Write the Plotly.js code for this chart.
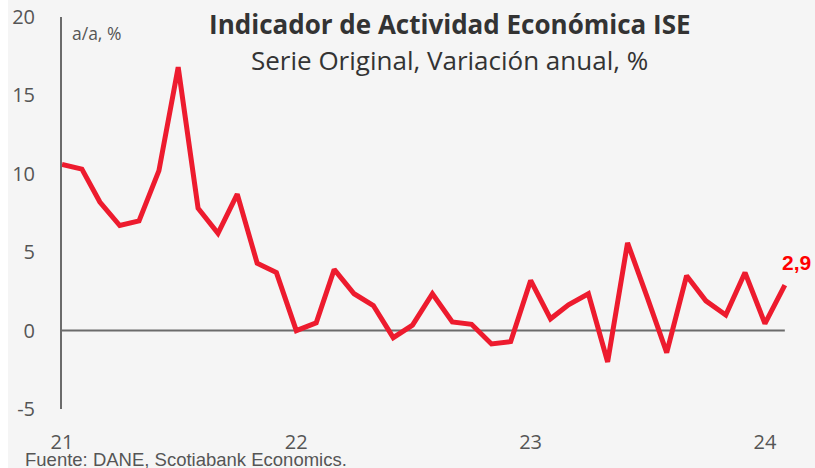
<!DOCTYPE html>
<html>
<head>
<meta charset="utf-8">
<script src="https://cdn.plot.ly/plotly-3.0.1.min.js"></script>
<style>
html,body{margin:0;padding:0;background:#ffffff;}
#chart{position:absolute;left:8px;top:0;width:807px;height:468px;}
</style>
</head>
<body>
<div id="chart"></div>
<script>
const months = [
  '2021-01-01','2021-02-01','2021-03-01','2021-04-01','2021-05-01','2021-06-01',
  '2021-07-01','2021-08-01','2021-09-01','2021-10-01','2021-11-01','2021-12-01',
  '2022-01-01','2022-02-01','2022-03-01','2022-04-01','2022-05-01','2022-06-01',
  '2022-07-01','2022-08-01','2022-09-01','2022-10-01','2022-11-01','2022-12-01',
  '2023-01-01','2023-02-01','2023-03-01','2023-04-01','2023-05-01','2023-06-01',
  '2023-07-01','2023-08-01','2023-09-01','2023-10-01','2023-11-01','2023-12-01',
  '2024-01-01','2024-02-01'
];
const iseAnual = [
  10.6, 10.3, 8.2, 6.7, 7.0, 10.2, 16.8, 7.8, 6.2, 8.7, 4.3, 3.7,
  0.0, 0.5, 3.9, 2.35, 1.6, -0.45, 0.35, 2.35, 0.55, 0.4, -0.85, -0.7,
  3.2, 0.75, 1.65, 2.35, -2.0, 5.6, 2.2, -1.4, 3.5, 1.9, 1.0, 3.7,
  0.45, 2.9
];
const yTickVals = [-5, 0, 5, 10, 15, 20];
const yTickText = ['-5', '0', '5', '10', '15', '20'];
const xTickVals = ['2021-01-01', '2022-01-01', '2023-01-01', '2024-01-01'];
const xTickText = ['21', '22', '23', '24'];
const titleText = 'Indicador de Actividad Económica ISE';
const subtitleText = 'Serie Original, Variación anual, %';
const unitText = 'a/a, %';
const sourceText = 'Fuente: DANE, Scotiabank Economics.';

const red = '#ED1B2E';
const axisGrey = '#6b6b6b';
const textGrey = '#555555';
const lastIdx = iseAnual.length - 1;
const lastLabel = iseAnual[lastIdx].toFixed(1).replace('.', ',');

const trace = {
  x: months, y: iseAnual, type: 'scatter', mode: 'lines',
  line: {color: red, width: 5, shape: 'linear'},
  hoverinfo: 'skip', showlegend: false
};

const layout = {
  width: 807, height: 468,
  paper_bgcolor: '#f5f5f5', plot_bgcolor: '#f5f5f5',
  margin: {l: 54, r: 0, t: 17, b: 59},
  font: {family: 'Open Sans, sans-serif', color: textGrey},
  title: {
    text: '<b>' + titleText + '</b>',
    font: {family: 'Open Sans, sans-serif', size: 26, color: '#333333'},
    xref: 'paper', x: 0.515, xanchor: 'center',
    yref: 'container', y: 0.946, yanchor: 'middle'
  },
  xaxis: {
    type: 'date', range: ['2021-01-01', '2024-03-19'],
    showgrid: false, zeroline: false, showline: false, ticks: '',
    tickvals: xTickVals, ticktext: xTickText,
    tickfont: {size: 20, color: textGrey, family: 'Open Sans, sans-serif'},
    ticklabelstandoff: 19
  },
  yaxis: {
    range: [-5, 20], showgrid: false, zeroline: false,
    showline: true, linecolor: axisGrey, linewidth: 2,
    ticks: '', tickvals: yTickVals, ticktext: yTickText,
    tickfont: {size: 20, color: textGrey, family: 'Open Sans, sans-serif'},
    ticklabelstandoff: 21
  },
  shapes: [{
    type: 'line', xref: 'x', yref: 'y',
    x0: months[0], x1: months[lastIdx], y0: 0, y1: 0,
    line: {color: axisGrey, width: 2}, layer: 'below'
  }],
  annotations: [
    {text: subtitleText, xref: 'paper', yref: 'paper', x: 0.515, y: 0.890,
     xanchor: 'center', yanchor: 'middle', showarrow: false,
     font: {family: 'Open Sans, sans-serif', size: 26, color: '#333333'}},
    {text: unitText, xref: 'paper', yref: 'paper', x: 0.011, y: 0.959,
     xanchor: 'left', yanchor: 'middle', showarrow: false,
     font: {family: 'Open Sans, sans-serif', size: 17.5, color: textGrey}},
    {text: '<b>' + lastLabel + '</b>', xref: 'x', yref: 'y',
     x: months[lastIdx], y: iseAnual[lastIdx], xshift: 12, yshift: 23,
     xanchor: 'center', yanchor: 'middle', showarrow: false,
     font: {family: 'Liberation Sans, Arial, sans-serif', size: 21, color: '#FF0000'}},
    {text: sourceText, xref: 'paper', yref: 'paper', x: -0.052, y: -0.097,
     xanchor: 'left', yanchor: 'top', showarrow: false,
     font: {family: 'Liberation Sans, Arial, sans-serif', size: 18.5, color: textGrey}}
  ]
};

Plotly.newPlot('chart', [trace], layout, {displayModeBar: false, staticPlot: true});
</script>
</body>
</html>
